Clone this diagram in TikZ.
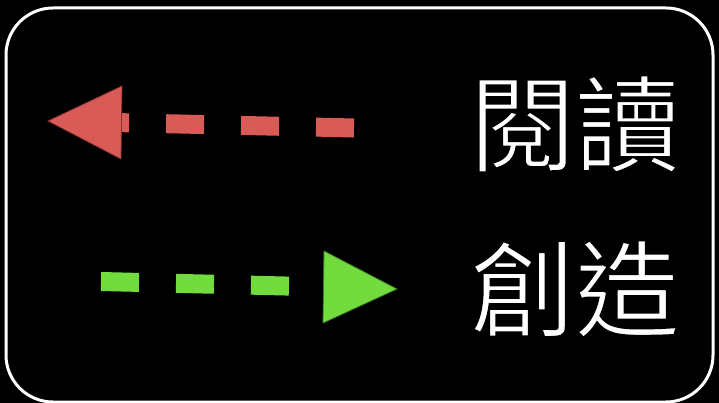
\documentclass[tikz,border=0pt]{standalone}
\usepackage{fontspec}
\newfontfamily\cjkfont{Noto Sans CJK TC}
\definecolor{readred}{HTML}{D85B57}
\definecolor{readredd}{HTML}{8A3330}
\definecolor{makegreen}{HTML}{72DC3E}
\definecolor{makegreend}{HTML}{3F7A22}
\newcommand{\thintext}[1]{\special{pdf:literal direct 2 Tr 1.6 w 0 0 0 RG}#1\special{pdf:literal direct 0 Tr 0 w}}
\tikzset{
  frame/.style={draw=white, line width=3pt, rounded corners=47pt},
  dashline/.style={line width=19pt, dash pattern=on 38pt off 37pt},
  headtri/.style={line width=0.8pt, line join=miter},
  label/.style={text=white, font=\cjkfont\fontsize{105pt}{105pt}\selectfont, inner sep=0pt, anchor=center}
}
\begin{document}
\begin{tikzpicture}[x=1pt,y=-1pt]
  \fill[black] (0,0) rectangle (719,403);
  \useasboundingbox (0,0) rectangle (719,403);
  \draw[frame] (6,8) rectangle (713,402);
  % red arrow (reading, pointing left)
  \coordinate (rs) at (354,128);
  \coordinate (re) at (92,122);
  \coordinate (rtip) at (48,121);
  \coordinate (rb1) at (122,86);
  \coordinate (rb2) at (121,159);
  \draw[dashline, readred] (rs) -- (re);
  \filldraw[headtri, fill=readred, draw=readredd] (rtip) -- (rb1) -- (rb2) -- cycle;
  % green arrow (creating, pointing right)
  \coordinate (gs) at (101,281.5);
  \coordinate (ge) at (326,287);
  \coordinate (gtip) at (397,289);
  \coordinate (gb1) at (324,251);
  \coordinate (gb2) at (323,323);
  \draw[dashline, makegreen] (gs) -- (ge);
  \filldraw[headtri, fill=makegreen, draw=makegreend] (gtip) -- (gb1) -- (gb2) -- cycle;
  % labels
  \node[label] (read) at (575,124) {\thintext{閱讀}};
  \node[label] (make) at (575,289) {\thintext{創造}};
\end{tikzpicture}
\end{document}
